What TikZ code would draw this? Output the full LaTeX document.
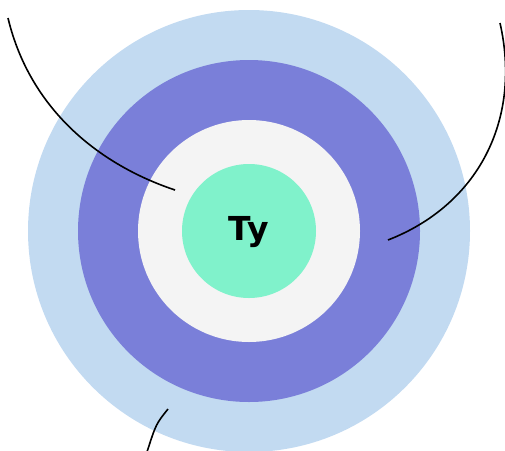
\documentclass[tikz,border=0pt]{standalone}
\usepackage{fontspec}
\newfontfamily\labelfont{DejaVu Sans}
\definecolor{outerblue}{HTML}{C2DAF1}
\definecolor{ringpurple}{HTML}{7A7FD9}
\definecolor{innergray}{HTML}{F4F4F4}
\definecolor{coregreen}{HTML}{80F2CB}
\begin{document}
\begin{tikzpicture}[x=1pt,y=-1pt,
  ring/.style={circle,draw=none,inner sep=0pt,minimum size=#1},
  leader/.style={draw=black,line width=1.6pt}]
\useasboundingbox (0,0) rectangle (505,450);
\node[ring=442pt,fill=outerblue] (outer) at (249,231) {};
\node[ring=342pt,fill=ringpurple] (mid) at (249,231) {};
\node[ring=222pt,fill=innergray] (inner) at (249,231) {};
\node[ring=134pt,fill=coregreen] (core) at (249,231) {};
\node[font=\labelfont\bfseries\fontsize{33}{38}\selectfont] (lbl) at (249,232) {Ty};
\coordinate (a0) at (8,18);
\coordinate (a1) at (175,190);
\coordinate (b0) at (500,23);
\coordinate (b1) at (388,240);
\coordinate (c0) at (168,409);
\coordinate (c1) at (147,452);
\draw[leader] (a0) .. controls (30,110) and (100,165) .. (a1);
\draw[leader] (b0) .. controls (522,120) and (478,205) .. (b1);
\draw[leader] (c0) .. controls (156,424) .. (c1);
\end{tikzpicture}
\end{document}
